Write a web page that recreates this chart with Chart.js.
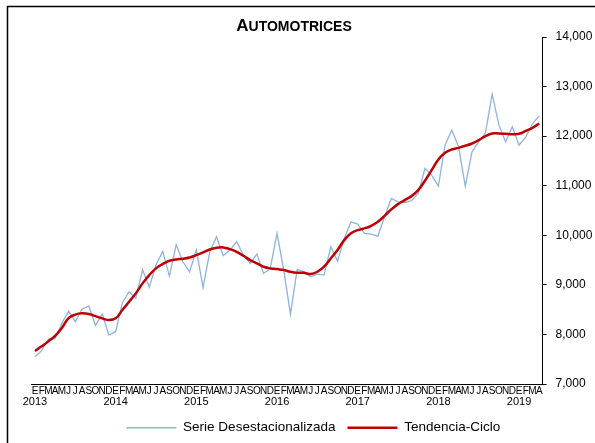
<!DOCTYPE html>
<html>
<head>
<meta charset="utf-8">
<title>Automotrices</title>
<script src="https://cdn.jsdelivr.net/npm/chart.js@4.4.1/dist/chart.umd.min.js"></script>
<style>
    body { margin: 0; background: #fff; }
    canvas { display: block; }
</style>
</head>
<body>
<canvas id="automotrices-chart" width="595" height="443"></canvas>
<script>
const monthLetters = ["E", "F", "M", "A", "M", "J", "J", "A", "S", "O", "N", "D"];
const years = ["2013", "2014", "2015", "2016", "2017", "2018", "2019"];
const yTicks = [7000, 8000, 9000, 10000, 11000, 12000, 13000, 14000];

// Serie desestacionalizada, ene 2013 - abr 2019
const serieDesest = [
    7550, 7672, 7907, 7920, 8223, 8472, 8257, 8512, 8573, 8183, 8411, 7988,
    8055, 8640, 8861, 8728, 9305, 8955, 9399, 9675, 9177, 9808, 9466, 9264,
    9702, 8942, 9667, 9970, 9587, 9702, 9869, 9600, 9433, 9621, 9231, 9332,
    10040, 9298, 8411, 9312, 9264, 9163, 9218, 9197, 9768, 9480, 9936, 10272,
    10226, 10040, 10024, 9984, 10373, 10744, 10675, 10662, 10696, 10843, 11347, 11214,
    10992, 11825, 12121, 11785, 10992, 11684, 11885, 12067, 12847, 12222, 11885, 12188,
    11819, 11986, 12255, 12409
];

// Tendencia-ciclo
const tendenciaCiclo = [
    7665, 7760, 7860, 7970, 8130, 8330, 8400, 8425, 8412, 8370, 8324, 8290,
    8324, 8492, 8660, 8828, 9030, 9198, 9332, 9419, 9486, 9513, 9527, 9553,
    9600, 9654, 9714, 9748, 9755, 9721, 9667, 9587, 9500, 9433, 9366, 9332,
    9318, 9298, 9264, 9244, 9244, 9218, 9264, 9366, 9533, 9702, 9903, 10040,
    10105, 10139, 10192, 10272, 10393, 10522, 10629, 10710, 10790, 10911, 11100, 11314,
    11530, 11663, 11730, 11764, 11805, 11852, 11919, 12000, 12054, 12054, 12047, 12040,
    12047, 12107, 12168, 12255
];

const FONT = "Arial, 'Liberation Sans', sans-serif";

window.addEventListener("DOMContentLoaded", () => {
    buildChart();
});

// marco exterior + titulo en versalitas
const framePlugin = {
    id: "frame",
    beforeDraw(chart) {
        const ctx = chart.ctx;
        ctx.save();
        ctx.fillStyle = "#fff";
        ctx.fillRect(0, 0, chart.width, chart.height);
        ctx.strokeStyle = "#000";
        ctx.lineWidth = 1.5;
        ctx.beginPath();
        ctx.moveTo(7.5, chart.height);
        ctx.lineTo(7.5, 6.5);
        ctx.lineTo(chart.width, 6.5);
        ctx.stroke();
        ctx.restore();
    },
    afterDraw(chart) {
        const ctx = chart.ctx;
        const big = "bold 17px " + FONT;
        const small = "bold 14px " + FONT;
        ctx.save();
        ctx.fillStyle = "#000";
        ctx.textBaseline = "alphabetic";
        ctx.font = big;
        const w1 = ctx.measureText("A").width;
        ctx.font = small;
        const w2 = ctx.measureText("UTOMOTRICES").width;
        const x = 294 - (w1 + w2) / 2;
        ctx.font = big;
        ctx.fillText("A", x, 31);
        ctx.font = small;
        ctx.fillText("UTOMOTRICES", x + w1, 31);
        ctx.restore();
    }
};

function buildChart() {
    const ctx = document.getElementById("automotrices-chart").getContext("2d");
    const labels = serieDesest.map((v, i) => monthLetters[i % 12]);

    new Chart(ctx, {
        type: "line",
        data: {
            labels: labels,
            datasets: [
                {
                    label: "Serie Desestacionalizada",
                    data: serieDesest,
                    borderColor: "#8db3e2",
                    backgroundColor: "#8db3e2",
                    borderWidth: 1.3,
                    pointRadius: 0,
                    tension: 0,
                    order: 1
                },
                {
                    label: "Tendencia-Ciclo",
                    data: tendenciaCiclo,
                    borderColor: "#c00000",
                    backgroundColor: "#c00000",
                    borderWidth: 2.5,
                    pointRadius: 0,
                    tension: 0.4,
                    order: 0
                }
            ]
        },
        options: {
            responsive: false,
            animation: false,
            layout: { padding: { top: 37, left: 31.6, right: 0, bottom: 0 } },
            plugins: {
                title: { display: false },
                tooltip: { enabled: false },
                legend: {
                    position: "bottom",
                    maxHeight: 34,
                    labels: {
                        usePointStyle: true,
                        pointStyle: "line",
                        pointStyleWidth: 50,
                        color: "#000",
                        padding: 12,
                        font: { family: FONT, size: 13.5 },
                        sort: (a, b) => a.datasetIndex - b.datasetIndex
                    }
                }
            },
            scales: {
                x: {
                    type: "category",
                    offset: true,
                    grid: { display: false, drawTicks: false },
                    border: { display: true, color: "#000", width: 1 },
                    ticks: {
                        autoSkip: false,
                        maxRotation: 0,
                        padding: 1,
                        color: "#000",
                        font: { family: FONT, size: 10 }
                    },
                    afterFit: scale => { scale.height = 11; }
                },
                x2: {
                    type: "category",
                    position: "bottom",
                    offset: true,
                    grid: { display: false, drawTicks: false },
                    border: { display: false },
                    ticks: {
                        autoSkip: false,
                        maxRotation: 0,
                        padding: 0,
                        color: "#000",
                        font: { family: FONT, size: 11 },
                        callback: (val, idx) => idx % 12 === 0 ? years[idx / 12] : ""
                    },
                    afterFit: scale => { scale.height = 14; }
                },
                y: {
                    position: "right",
                    min: 7000,
                    max: 14000,
                    grid: { display: true, drawOnChartArea: false, color: "#000", tickLength: 4 },
                    border: { display: true, color: "#000", width: 1 },
                    ticks: {
                        padding: 9,
                        color: "#000",
                        font: { family: FONT, size: 12 },
                        callback: v => v.toLocaleString("en-US")
                    },
                    afterBuildTicks: scale => { scale.ticks = yTicks.map(v => ({ value: v })); },
                    afterFit: scale => { scale.width = 52.4; }
                }
            }
        },
        plugins: [framePlugin]
    });
}
</script>
</body>
</html>
